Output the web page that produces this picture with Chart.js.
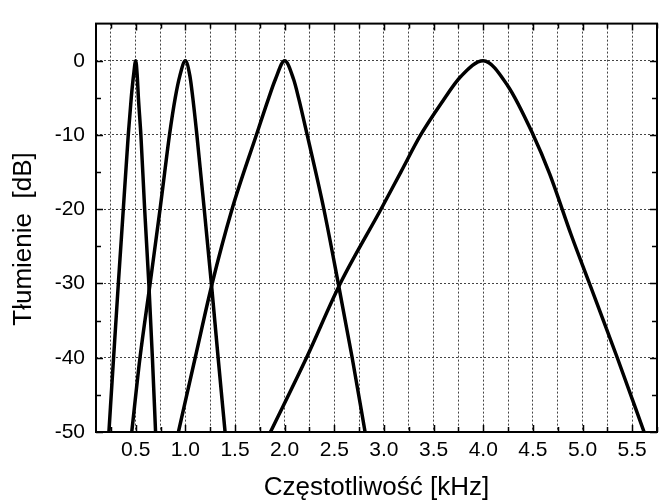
<!DOCTYPE html>
<html>
<head>
<meta charset="utf-8">
<script src="https://cdn.jsdelivr.net/npm/chart.js@4/dist/chart.umd.min.js"></script>
<style>
  html, body { margin: 0; padding: 0; background: #fff; }
  #wrap { width: 664px; height: 501px; }
</style>
</head>
<body>
<div id="wrap"><canvas id="myChart" width="664" height="501"></canvas></div>
<script>
// częstotliwość [kHz] i tłumienie [dB]
const freq05 = [0.23, 0.277, 0.325, 0.35, 0.375, 0.425, 0.455, 0.478, 0.5, 0.515, 0.527, 0.552, 0.59, 0.632, 0.668, 0.70]
const att05 = [-50, -40, -30, -25, -20, -10, -5, -2, 0, -2, -5, -10, -20, -30, -40, -50]

const freq10 = [0.46, 0.543, 0.645, 0.745, 0.792, 0.84, 0.898, 0.945, 1.0, 1.045, 1.075, 1.116, 1.19, 1.262, 1.33, 1.40]
const att10 = [-50, -40, -30, -20, -15, -10, -5, -2, 0, -2, -5, -10, -20, -30, -40, -50]

const freq20 = [0.93, 1.099, 1.27, 1.47, 1.715, 1.84, 1.907, 2.0, 2.09, 2.14, 2.227, 2.395, 2.54, 2.68, 2.81]
const att20 = [-50, -40, -30, -20, -10, -5, -2.5, 0, -2.5, -5, -10, -20, -30, -40, -50]

const freq40 = [1.857, 2.22, 2.56, 2.97, 3.17, 3.37, 3.574, 3.776, 4.0, 4.248, 4.5, 4.668, 4.887, 5.07, 5.35, 5.62]
const att40 = [-50, -40, -30, -20, -15, -10, -5.8, -2.1, 0, -3.4, -9.9, -15.2, -23.5, -30, -40, -50]

const xGrid = [0.25, 0.5, 0.75, 1.0, 1.25, 1.5, 1.75, 2.0, 2.25, 2.5, 2.75, 3.0, 3.25, 3.5, 3.75, 4.0, 4.25, 4.5, 4.75, 5.0, 5.25, 5.5, 5.75]
const xLabels = [0.5, 1.0, 1.5, 2.0, 2.5, 3.0, 3.5, 4.0, 4.5, 5.0, 5.5]
const yMajor = [-50, -40, -30, -20, -10, 0]
const yMinor = [-45, -35, -25, -15, -5]

const fontFamily = 'Liberation Sans, Arial, sans-serif'
const yTitle = 'Tłumienie  [dB]'

function toPoints(xs, ys) {
  return xs.map((x, i) => ({ x: x, y: ys[i] }))
}

function curve(xs, ys) {
  return {
    data: toPoints(xs, ys),
    showLine: true,
    borderColor: '#000',
    borderWidth: 3.5,
    pointRadius: 0,
    cubicInterpolationMode: 'monotone',
    fill: false,
  }
}

// ramka, znaczniki do środka na czterech bokach i opis osi Y
const frameTicks = {
  id: 'frameTicks',
  afterDatasetsDraw(chart) {
    const ctx = chart.ctx
    const a = chart.chartArea
    const xs = chart.scales.x
    const ys = chart.scales.y
    ctx.save()
    ctx.strokeStyle = '#000'
    ctx.lineWidth = 1.5
    ctx.beginPath()
    xGrid.forEach((v) => {
      const px = Math.round(xs.getPixelForValue(v)) + 0.5
      const len = xLabels.includes(v) ? 7 : 5
      ctx.moveTo(px, a.bottom)
      ctx.lineTo(px, a.bottom - len)
      ctx.moveTo(px, a.top)
      ctx.lineTo(px, a.top + len)
    })
    yMajor.concat(yMinor).forEach((v) => {
      const py = Math.round(ys.getPixelForValue(v)) + 0.5
      const len = yMajor.includes(v) ? 7 : 5
      ctx.moveTo(a.left, py)
      ctx.lineTo(a.left + len, py)
      ctx.moveTo(a.right, py)
      ctx.lineTo(a.right - len, py)
    })
    ctx.stroke()
    ctx.lineWidth = 2
    ctx.strokeRect(a.left, a.top, a.right - a.left, a.bottom - a.top)

    // opis osi Y (obrócony)
    ctx.translate(24, 239)
    ctx.rotate(-Math.PI / 2)
    ctx.fillStyle = '#000'
    ctx.font = '26px ' + fontFamily
    ctx.textAlign = 'center'
    ctx.textBaseline = 'middle'
    ctx.fillText(yTitle, 0, 0)
    ctx.restore()
  },
}

const config = {
  type: 'scatter',
  data: {
    datasets: [curve(freq05, att05), curve(freq10, att10), curve(freq20, att20), curve(freq40, att40)],
  },
  options: {
    responsive: false,
    animation: false,
    layout: { padding: { top: 12, right: 7, left: 0, bottom: 0 } },
    plugins: { legend: { display: false }, tooltip: { enabled: false } },
    scales: {
      x: {
        type: 'linear',
        min: 0.1,
        max: 5.75,
        afterBuildTicks: (scale) => {
          scale.ticks = xGrid.map((v) => ({ value: v }))
        },
        afterFit: (scale) => {
          scale.height = 69
        },
        grid: { color: '#444', lineWidth: 1, drawTicks: false },
        border: { display: false, dash: [2, 2] },
        ticks: {
          color: '#000',
          padding: 6,
          maxRotation: 0,
          autoSkip: false,
          font: { family: fontFamily, size: 21 },
          callback: (v) => (xLabels.includes(v) ? v.toFixed(1) : ''),
        },
        title: {
          display: true,
          text: 'Częstotliwość [kHz]',
          color: '#000',
          padding: { top: 0, bottom: 0 },
          font: { family: fontFamily, size: 26, lineHeight: 1 },
        },
      },
      y: {
        type: 'linear',
        min: -50,
        max: 5,
        afterBuildTicks: (scale) => {
          scale.ticks = yMajor.map((v) => ({ value: v }))
        },
        afterFit: (scale) => {
          scale.width = 96
        },
        grid: { color: '#444', lineWidth: 1, drawTicks: false },
        border: { display: false, dash: [2, 2] },
        ticks: {
          color: '#000',
          padding: 11,
          font: { family: fontFamily, size: 21 },
        },
        title: { display: false },
      },
    },
  },
  plugins: [frameTicks],
}

const myChart = new Chart(document.getElementById('myChart'), config)
</script>
</body>
</html>
